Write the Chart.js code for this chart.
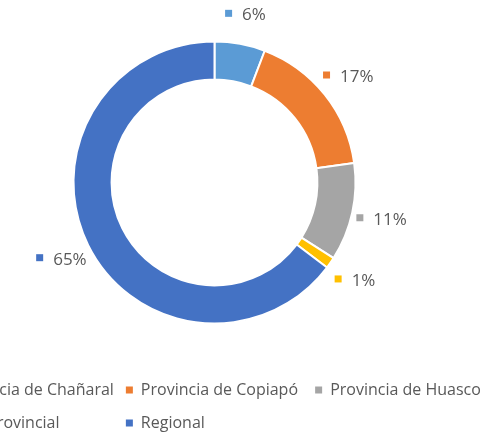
<!DOCTYPE html>
<html>
<head>
<meta charset="utf-8">
<script src="https://cdn.jsdelivr.net/npm/chart.js@4"></script>
<style>
  html, body { margin: 0; padding: 0; background: #fff; overflow: hidden; }
</style>
</head>
<body>
<canvas id="donutChart" width="486" height="435"></canvas>
<script>
const categories = ["Provincia de Chañaral", "Provincia de Copiapó", "Provincia de Huasco", "Interprovincial", "Regional"];
const shares = [5.8, 17.0, 11.2, 1.3, 64.7];
const sliceColors = ["#5B9BD5", "#ED7D31", "#A5A5A5", "#FFC000", "#4472C4"];

const textColor = "#595959";
const fontFamily = "'Open Sans', sans-serif";

// percentage labels outside the ring, each one with a small colour key
const outsideLabels = {
  id: "outsideLabels",
  afterDatasetsDraw(chart) {
    const ctx = chart.ctx;
    const meta = chart.getDatasetMeta(0);
    const total = shares.reduce((a, b) => a + b, 0);
    ctx.save();
    ctx.font = "17px " + fontFamily;
    ctx.textBaseline = "alphabetic";
    meta.data.forEach((arc, i) => {
      const p = arc.getProps(["x", "y", "startAngle", "endAngle", "outerRadius"], true);
      const mid = (p.startAngle + p.endAngle) / 2;
      const r = p.outerRadius + 30;
      const cx = p.x + Math.cos(mid) * r;
      const cy = p.y + Math.sin(mid) * r;
      const text = Math.round(shares[i] / total * 100) + "%";
      const w = 7 + 10 + ctx.measureText(text).width;
      const left = cx - w / 2;
      ctx.fillStyle = sliceColors[i];
      ctx.strokeStyle = "#fff";
      ctx.lineWidth = 2;
      ctx.strokeRect(left, cy - 4.5, 7, 7);
      ctx.fillRect(left, cy - 4.5, 7, 7);
      ctx.fillStyle = textColor;
      ctx.fillText(text, left + 17, cy + 6);
    });
    ctx.restore();
  }
};

// legend laid out as a grid with equal columns, like the spreadsheet one
const gridLegend = {
  id: "gridLegend",
  afterDraw(chart) {
    const ctx = chart.ctx;
    const area = chart.chartArea;
    const cols = 3, box = 7, boxGap = 8, colGap = 12, rowH = 33;
    ctx.save();
    ctx.font = "16px " + fontFamily;
    ctx.textBaseline = "alphabetic";
    const maxText = Math.max(...categories.map((c) => ctx.measureText(c).width));
    const colW = box + boxGap + maxText + colGap;
    const x0 = (area.left + area.right) / 2 - (cols * colW - colGap) / 2;
    const y0 = area.bottom + 70.5;
    categories.forEach((name, i) => {
      const x = x0 + (i % cols) * colW;
      const y = y0 + Math.floor(i / cols) * rowH;
      ctx.fillStyle = sliceColors[i];
      ctx.fillRect(x, y - 8.5, box, box);
      ctx.fillStyle = textColor;
      ctx.fillText(name, x + box + boxGap, y);
    });
    ctx.restore();
  }
};

const ctx = document.getElementById("donutChart").getContext("2d");
const donutChart = new Chart(ctx, {
  type: "doughnut",
  data: {
    labels: categories,
    datasets: [
      {
        data: shares,
        backgroundColor: sliceColors,
        borderColor: "#ffffff",
        borderWidth: 2,
      },
    ],
  },
  options: {
    responsive: false,
    animation: false,
    cutout: "73%",
    layout: {
      padding: { left: 72.5, right: 129.5, top: 40.5, bottom: 110.5 },
    },
    plugins: {
      legend: { display: false },
      tooltip: { enabled: false },
    },
  },
  plugins: [outsideLabels, gridLegend],
});
</script>
</body>
</html>
